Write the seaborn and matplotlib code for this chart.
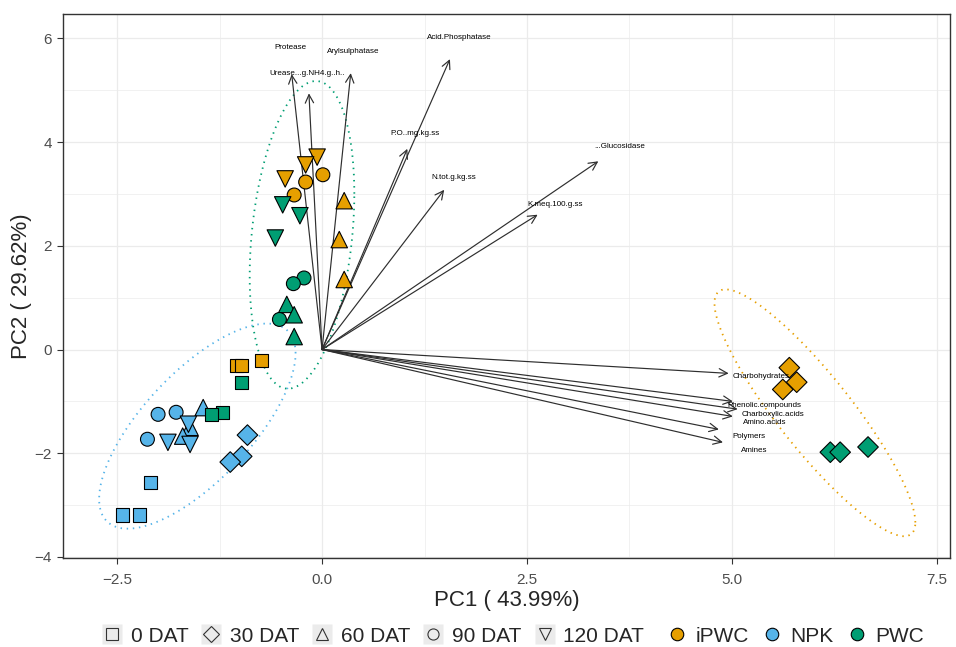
import numpy as np
import pandas as pd
import seaborn as sns
import matplotlib.pyplot as plt
from matplotlib.lines import Line2D
from matplotlib.ticker import MultipleLocator

# PCA scores (3 replicates per fertilizer x sampling date)
fert = ["iPWC"] * 15 + ["NPK"] * 15 + ["PWC"] * 15
dat = (["0 DAT"] * 3 + ["30 DAT"] * 3 + ["60 DAT"] * 3 + ["90 DAT"] * 3 + ["120 DAT"] * 3) * 3
pc1 = [-1.04, -0.98, -0.74, 5.70, 5.79, 5.62, 0.27, 0.21, 0.27, 0.01, -0.20, -0.34, -0.06, -0.20, -0.45,
       -2.09, -2.43, -2.23, -0.91, -0.98, -1.12, -1.45, -1.61, -1.70, -2.00, -1.78, -2.13, -1.63, -1.88, -1.61,
       -0.98, -1.21, -1.35, 6.20, 6.32, 6.66, -0.43, -0.34, -0.34, -0.22, -0.35, -0.52, -0.48, -0.27, -0.57]
pc2 = [-0.31, -0.31, -0.21, -0.35, -0.63, -0.77, 2.87, 2.12, 1.35, 3.37, 3.23, 2.98, 3.71, 3.56, 3.29,
       -2.56, -3.19, -3.19, -1.65, -2.06, -2.17, -1.12, -1.50, -1.67, -1.25, -1.21, -1.73, -1.44, -1.79, -1.83,
       -0.63, -1.21, -1.25, -1.98, -1.98, -1.88, 0.87, 0.67, 0.25, 1.38, 1.27, 0.58, 2.79, 2.58, 2.15]
cluster = (["NPK"] * 3 + ["iPWC"] * 3 + ["PWC"] * 9) + ["NPK"] * 15 + (["NPK"] * 3 + ["iPWC"] * 3 + ["PWC"] * 9)

# variable loadings (arrow tips) and label positions
variables = ["Protease", "Arylsulphatase", "Urease...g.NH4.g..h..", "Acid.Phosphatase", "P.O..mg.kg.ss",
             "N.tot.g.kg.ss", "...Glucosidase", "K.meq.100.g.ss", "Charbohydrates", "Phenolic.compounds",
             "Charboxylic.acids", "Amino.acids", "Polymers", "Amines"]
load1 = [-0.37, 0.35, -0.16, 1.56, 1.04, 1.49, 3.37, 2.63, 4.96, 5.01, 5.07, 5.01, 4.84, 4.89]
load2 = [5.31, 5.33, 4.94, 5.60, 3.87, 3.08, 3.63, 2.60, -0.46, -1.00, -1.15, -1.29, -1.54, -1.79]
lab1 = [-0.39, 0.38, -0.18, 1.67, 1.13, 1.61, 3.63, 2.84, 5.35, 5.39, 5.50, 5.40, 5.21, 5.27]
lab2 = [5.83, 5.75, 5.33, 6.02, 4.17, 3.31, 3.92, 2.79, -0.52, -1.08, -1.25, -1.40, -1.67, -1.94]

dat_levels = ["0 DAT", "30 DAT", "60 DAT", "90 DAT", "120 DAT"]
fert_levels = ["iPWC", "NPK", "PWC"]
palette = {"iPWC": "#E69F00", "NPK": "#56B4E9", "PWC": "#009E73"}
markers = {"0 DAT": "s", "30 DAT": "D", "60 DAT": "^", "90 DAT": "o", "120 DAT": "v"}
sizes = {"0 DAT": 90, "30 DAT": 110, "60 DAT": 140, "90 DAT": 100, "120 DAT": 140}

df = pd.DataFrame({"PC1": pc1, "PC2": pc2, "Fertilizer": fert, "DAT": dat, "cluster": cluster})


def cov_trob(xy, nu=5, maxit=25, tol=0.01):
    # same as MASS::cov.trob, used by ggplot's stat_ellipse
    n, p = xy.shape
    loc = xy.mean(axis=0)
    w = np.ones(n)
    for _ in range(maxit):
        w0 = w
        X = xy - loc
        _, d, vt = np.linalg.svd(X / np.sqrt(n), full_matrices=False)
        wX = X @ vt.T @ np.diag(1 / d)
        Q = (wX ** 2).sum(axis=1)
        w = (nu + p) / (nu + Q)
        loc = (w[:, None] * xy).sum(axis=0) / w.sum()
        if np.all(np.abs(w - w0) < tol):
            break
    Xw = np.sqrt(w)[:, None] * X
    return loc, Xw.T @ Xw / n


def ellipse_path(xy, level=0.95, segments=101):
    n = len(xy)
    center, shape = cov_trob(xy)
    dfd = n - 1
    qf = dfd / 2 * ((1 - level) ** (-2 / dfd) - 1)
    radius = np.sqrt(2 * qf)
    t = np.linspace(0, 2 * np.pi, segments)
    circle = np.column_stack([np.cos(t), np.sin(t)])
    chol = np.linalg.cholesky(shape).T
    return center + radius * circle @ chol


sns.set_style("white")
plt.rcParams["font.family"] = ["Liberation Sans", "DejaVu Sans"]

fig = plt.figure(figsize=(9.56, 6.47), dpi=100)
ax = fig.add_axes([63 / 956, 89 / 647, 887 / 956, 544 / 647])

# ellipses
for g in fert_levels:
    pts = df.loc[df["cluster"] == g, ["PC1", "PC2"]].to_numpy()
    e = ellipse_path(pts)
    ax.plot(e[:, 0], e[:, 1], color=palette[g], lw=1.3, linestyle=(0, (0.8, 2.6)), zorder=2)

# arrows
for name, x, y, lx, ly in zip(variables, load1, load2, lab1, lab2):
    ax.annotate("", xy=(x, y), xytext=(0, 0),
                arrowprops=dict(arrowstyle="->,head_length=0.6,head_width=0.3", color="#2e2e2e",
                                lw=0.85, shrinkA=0, shrinkB=0), zorder=2)
    ax.text(lx, ly, name, fontsize=5.8, ha="center", va="center", color="black", zorder=4)

sns.scatterplot(data=df, x="PC1", y="PC2", hue="Fertilizer", style="DAT", size="DAT",
                palette=palette, markers=markers, sizes=sizes, hue_order=fert_levels,
                style_order=dat_levels, size_order=dat_levels,
                edgecolor="black", linewidth=0.8, legend=False, ax=ax, zorder=3)

ax.set_xlim(-3.16, 7.66)
ax.set_ylim(-4.02, 6.47)
ax.xaxis.set_major_locator(MultipleLocator(2.5))
ax.xaxis.set_minor_locator(MultipleLocator(1.25))
ax.yaxis.set_major_locator(MultipleLocator(2))
ax.yaxis.set_minor_locator(MultipleLocator(1))
ax.grid(which="major", color="#EBEBEB", lw=0.9)
ax.grid(which="minor", color="#EBEBEB", lw=0.5)
ax.set_axisbelow(True)
for s in ax.spines.values():
    s.set_color("#333333")
    s.set_linewidth(1.0)
ax.tick_params(which="major", direction="out", length=4, width=0.8, color="#333333",
               labelsize=11, labelcolor="#4D4D4D", bottom=True, left=True)
ax.tick_params(axis="x", which="major", pad=7)
ax.tick_params(axis="y", which="major", pad=4)
ax.tick_params(which="minor", length=0)
ax.set_xlabel("PC1 ( 43.99%)", fontsize=16, labelpad=2)
ax.set_ylabel("PC2 ( 29.62%)", fontsize=16, labelpad=2)

# legends
shape_handles = []
for lab in dat_levels:
    bg = Line2D([], [], marker="s", markersize=15, markerfacecolor="#EBEBEB",
                markeredgecolor="none", linestyle="")
    mk = Line2D([], [], marker=markers[lab], markersize=8, markerfacecolor="none",
                markeredgecolor="#333333", markeredgewidth=0.8, linestyle="")
    shape_handles.append((bg, mk))
fig.legend(shape_handles, dat_levels, loc="center", bbox_to_anchor=(0.39, 0.017), ncol=5,
           frameon=False, fontsize=15, handlelength=1.0, handletextpad=0.4, columnspacing=0.6)

fill_handles = [Line2D([], [], marker="o", markersize=9, markerfacecolor=palette[f],
                       markeredgecolor="black", markeredgewidth=0.8, linestyle="") for f in fert_levels]
fig.legend(fill_handles, fert_levels, loc="center", bbox_to_anchor=(0.832, 0.017), ncol=3,
           frameon=False, fontsize=15, handlelength=1.0, handletextpad=0.4, columnspacing=0.6)

fig.savefig("out.png", dpi=100)
